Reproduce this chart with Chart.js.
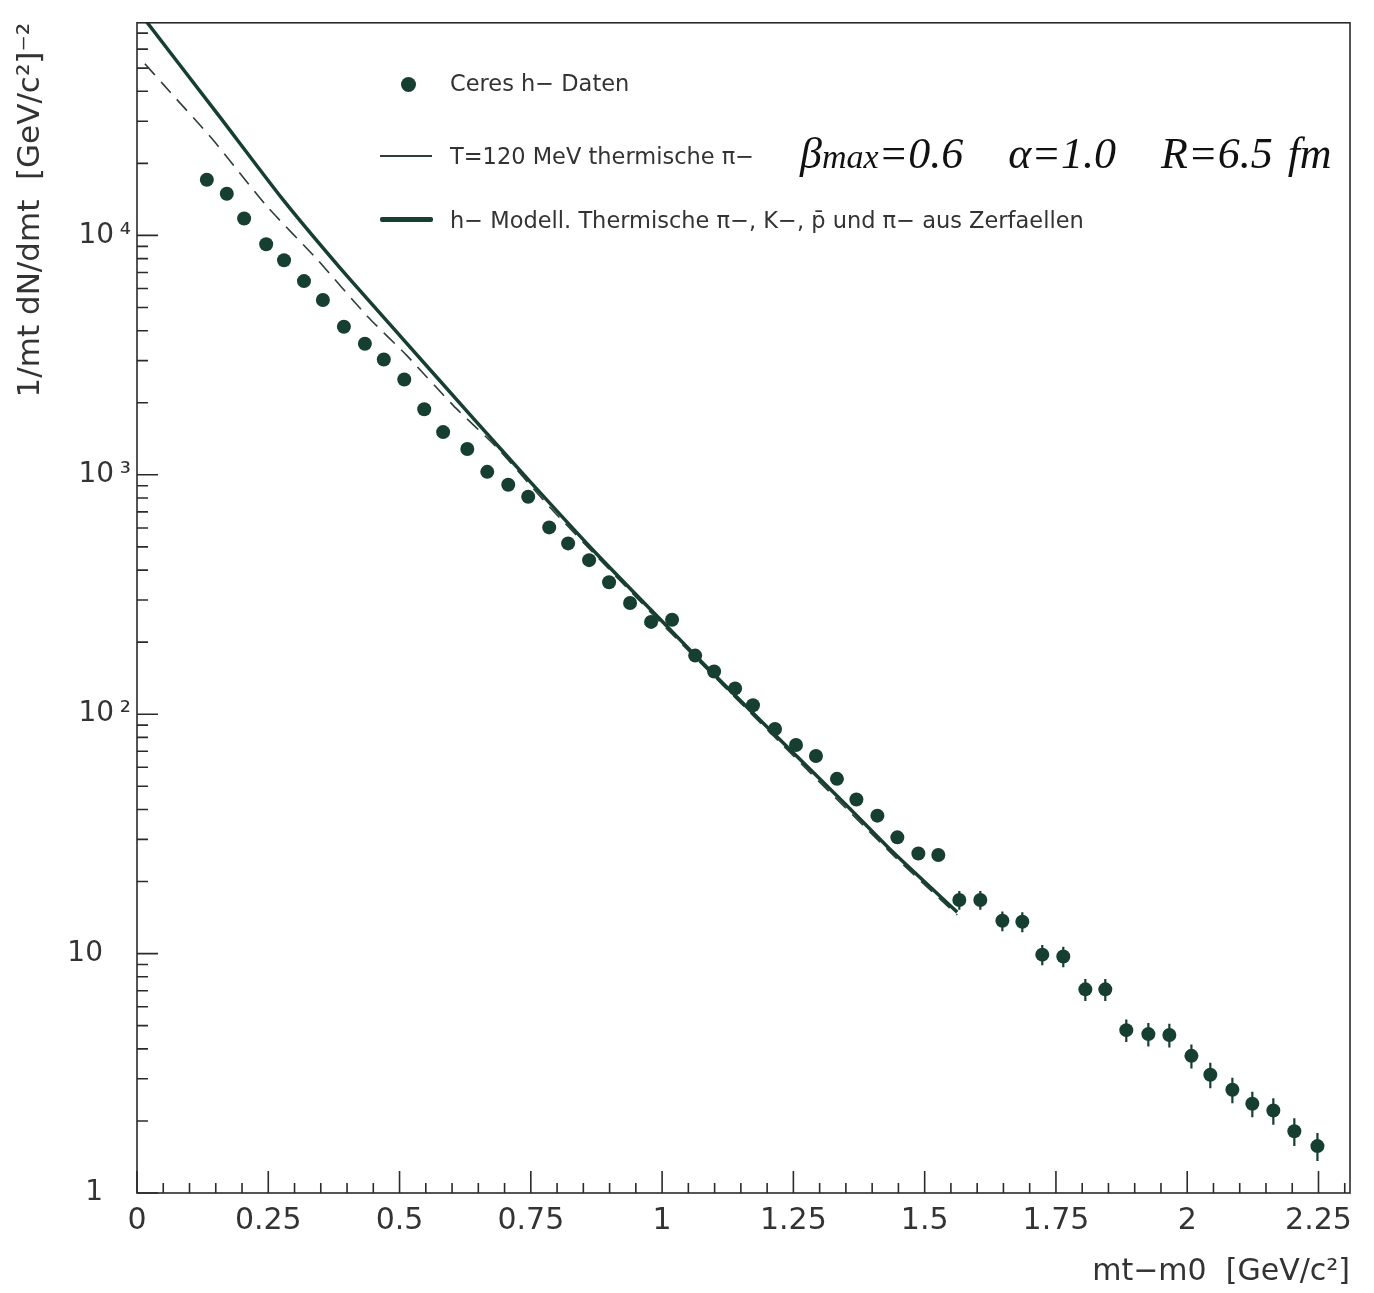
<!DOCTYPE html>
<html>
<head>
<meta charset="utf-8">
<title>Ceres h- mt spectrum</title>
<script src="https://cdn.jsdelivr.net/npm/chart.js@4.4.1/dist/chart.umd.min.js"></script>
<style>
  html, body { margin: 0; padding: 0; background: #fff; }
  #wrap { position: relative; width: 1374px; height: 1293px; }
  .leg { position: absolute; font-family: 'DejaVu Sans', sans-serif; font-size: 22.5px; color: #333;
         white-space: nowrap; transform: translateY(-50%); line-height: 1; }
  .mark { position: absolute; background: #163f31; }
  .note { position: absolute; left: 800px; top: 128px; font-family: 'Liberation Serif', serif;
          font-style: italic; font-size: 44px; color: #111; white-space: nowrap; word-spacing: 4px; }
</style>
</head>
<body>
<div id="wrap">
  <canvas id="spectrum"></canvas>

  <!-- legend, drawn inside the plot like the original -->
  <div class="mark" style="left:401px; top:77px; width:15px; height:15px; border-radius:50%;"></div>
  <div class="leg" style="left:450px; top:83px;">Ceres h− Daten</div>
  <div class="mark" style="left:380px; top:155px; width:52px; height:2px; background:#2a3f36;"></div>
  <div class="leg" style="left:450px; top:156px;">T=120 MeV thermische π−</div>
  <div class="mark" style="left:380px; top:217px; width:53px; height:5px; border-radius:2px;"></div>
  <div class="leg" style="left:450px; top:220px;">h− Modell. Thermische π−, K−, p̄ und π− aus Zerfaellen</div>

  <div class="note">β<span style="font-size:34px">max</span>=0.6&nbsp;&nbsp; α=1.0&nbsp;&nbsp; R=6.5 fm</div>
</div>

<script>
// Ceres h- data points (mt-m0 in GeV/c^2, yield)
const ceresX = [0.133, 0.171, 0.204, 0.246, 0.280, 0.318, 0.354, 0.394, 0.434, 0.470,
                0.509, 0.547, 0.583, 0.629, 0.667, 0.707, 0.745, 0.785, 0.821, 0.861,
                0.899, 0.939, 0.979, 1.019, 1.063, 1.099, 1.139, 1.173, 1.215, 1.255,
                1.293, 1.333, 1.370, 1.410, 1.448, 1.488, 1.526, 1.566, 1.606, 1.648,
                1.686, 1.724, 1.764, 1.806, 1.844, 1.884, 1.926, 1.966, 2.008, 2.044,
                2.086, 2.124, 2.164, 2.204, 2.248];
const ceresY = [17080, 14940, 11760, 9180, 7880, 6445, 5374, 4152, 3529, 3030,
                2502, 1879, 1508, 1282, 1029, 909, 810, 603, 517, 440,
                356, 291.5, 243, 248, 175.7, 150.8, 128.2, 109.0, 86.7, 74.4,
                66.9, 53.7, 44.0, 37.7, 30.6, 26.2, 25.8, 16.75, 16.75, 13.71,
                13.58, 9.90, 9.72, 7.09, 7.09, 4.79, 4.61, 4.57, 3.74, 3.12,
                2.70, 2.36, 2.21, 1.81, 1.57];
const ceresErr = [0, 0, 0, 0, 0, 0, 0, 0, 0, 0,
                  0, 0, 0, 0, 0, 0, 0, 0, 0, 0,
                  0, 0, 0, 0, 0, 0, 0, 0, 0, 0,
                  0, 0, 0, 0, 0, 0, 0, 1.5, 1.5, 1.3,
                  1.3, 0.95, 0.95, 0.75, 0.75, 0.52, 0.52, 0.52, 0.43, 0.38,
                  0.33, 0.29, 0.28, 0.24, 0.21];

// h- model (thermal pi-, K-, pbar + decay pions)
const modelX = [0, 0.158, 0.278, 0.387, 0.501, 0.640, 0.749, 0.876, 1.010, 1.097, 1.225, 1.352, 1.440, 1.562];
const modelY = [88000, 31190, 14100, 7300, 3808, 1725, 935, 466, 232, 148, 78.0, 41.5, 26.5, 14.9];

// T=120 MeV thermal pi- (dashed)
const thermX = [0.015, 0.050, 0.145, 0.248, 0.343, 0.438, 0.514, 0.602, 0.686, 0.787, 0.876, 1.010, 1.225, 1.440, 1.562];
const thermY = [52100, 42740, 25020, 13190, 7943, 4610, 3148, 1951, 1294, 729, 455, 226, 76, 25.8, 14.5];

// axis ticks
const xMajorTicks = [0, 0.25, 0.5, 0.75, 1, 1.25, 1.5, 1.75, 2, 2.25];
const yMajorTicks = [1, 10, 100, 1000, 10000];
const yTickLabels = ['1\u2002\u2002', '10\u2002\u2002', '10\u2009²', '10\u2009³', '10\u2009⁴'];

const INK = '#163f31';
const AXIS = '#2b2b2b';
const FONT = "'DejaVu Sans', sans-serif";

const toPoints = (xs, ys) => xs.map((x, i) => ({ x, y: ys[i] }));
const isMajorX = v => xMajorTicks.some(t => Math.abs(t - v) < 1e-6);
const isMajorY = v => yMajorTicks.includes(v);

// frame + inward tick marks, as in the original plot
const frameTicks = {
  id: 'frameTicks',
  afterDraw(chart) {
    const { ctx, chartArea: a, scales: { x, y } } = chart;
    ctx.save();
    ctx.strokeStyle = AXIS;
    ctx.lineWidth = 1.6;
    ctx.strokeRect(a.left, a.top, a.right - a.left, a.bottom - a.top);
    ctx.beginPath();
    x.ticks.forEach(t => {
      const px = x.getPixelForValue(t.value);
      const len = isMajorX(t.value) ? 22 : 10;
      ctx.moveTo(px, a.bottom);
      ctx.lineTo(px, a.bottom - len);
    });
    y.ticks.forEach(t => {
      const py = y.getPixelForValue(t.value);
      const len = isMajorY(t.value) ? 21 : 11;
      ctx.moveTo(a.left, py);
      ctx.lineTo(a.left + len, py);
    });
    ctx.stroke();
    ctx.restore();
  }
};

// vertical error bars on the data points
const errorBars = {
  id: 'errorBars',
  afterDatasetsDraw(chart) {
    const { ctx, scales: { x, y } } = chart;
    ctx.save();
    ctx.strokeStyle = INK;
    ctx.lineWidth = 2.2;
    ctx.beginPath();
    ceresX.forEach((vx, i) => {
      if (!ceresErr[i]) return;
      const px = x.getPixelForValue(vx);
      ctx.moveTo(px, y.getPixelForValue(ceresY[i] - ceresErr[i]));
      ctx.lineTo(px, y.getPixelForValue(ceresY[i] + ceresErr[i]));
    });
    ctx.stroke();
    ctx.restore();
  }
};

new Chart(document.getElementById('spectrum'), {
  type: 'scatter',
  data: {
    datasets: [
      {
        label: 'Ceres h− Daten',
        data: toPoints(ceresX, ceresY),
        backgroundColor: INK,
        borderWidth: 0,
        pointRadius: 7,
        pointHoverRadius: 7
      },
      {
        label: 'h− Modell',
        data: toPoints(modelX, modelY),
        showLine: true,
        borderColor: INK,
        borderWidth: 3.5,
        pointRadius: 0,
        tension: 0.2
      },
      {
        label: 'T=120 MeV thermische π−',
        data: toPoints(thermX, thermY),
        showLine: true,
        borderColor: '#2a3f36',
        borderWidth: 1.6,
        borderDash: [15, 9],
        pointRadius: 0,
        tension: 0.2
      }
    ]
  },
  options: {
    responsive: true,
    maintainAspectRatio: false,
    animation: false,
    layout: { padding: { top: 15, right: 24, left: 0, bottom: 0 } },
    plugins: {
      legend: { display: false },
      tooltip: { enabled: false }
    },
    scales: {
      x: {
        type: 'linear',
        min: 0,
        max: 2.31,
        grid: { display: false, drawTicks: false },
        border: { display: false },
        afterBuildTicks(scale) {
          const ticks = [];
          for (let k = 0; k <= 46; k++) ticks.push({ value: +(k * 0.05).toFixed(2) });
          scale.ticks = ticks;
        },
        afterFit(scale) { scale.height = 100; },
        ticks: {
          autoSkip: false,
          maxRotation: 0,
          padding: 10,
          color: '#333',
          font: { family: FONT, size: 30 },
          callback: v => (isMajorX(v) ? String(+v.toFixed(2)) : '')
        },
        title: {
          display: true,
          text: 'mt−m0  [GeV/c²]',
          align: 'end',
          color: '#333',
          font: { family: FONT, size: 30 },
          padding: { top: 0, bottom: 3 }
        }
      },
      y: {
        type: 'logarithmic',
        min: 1,
        max: 77300,
        grid: { display: false, drawTicks: false },
        border: { display: false },
        afterBuildTicks(scale) {
          const ticks = [];
          yMajorTicks.forEach(d => {
            for (let m = 1; m <= 9; m++) {
              if (d * m <= 77300) ticks.push({ value: d * m });
            }
          });
          scale.ticks = ticks;
        },
        afterFit(scale) { scale.width = 137; },
        ticks: {
          autoSkip: false,
          padding: 6,
          color: '#333',
          font: { family: FONT, size: 28 },
          callback: v => {
            const i = yMajorTicks.indexOf(v);
            return i >= 0 ? yTickLabels[i] : '';
          }
        },
        title: {
          display: true,
          text: '1/mt dN/dmt  [GeV/c²]⁻²',
          align: 'end',
          color: '#333',
          font: { family: FONT, size: 31 },
          padding: { top: 12, bottom: 0 }
        }
      }
    }
  },
  plugins: [frameTicks, errorBars]
});
</script>
</body>
</html>
